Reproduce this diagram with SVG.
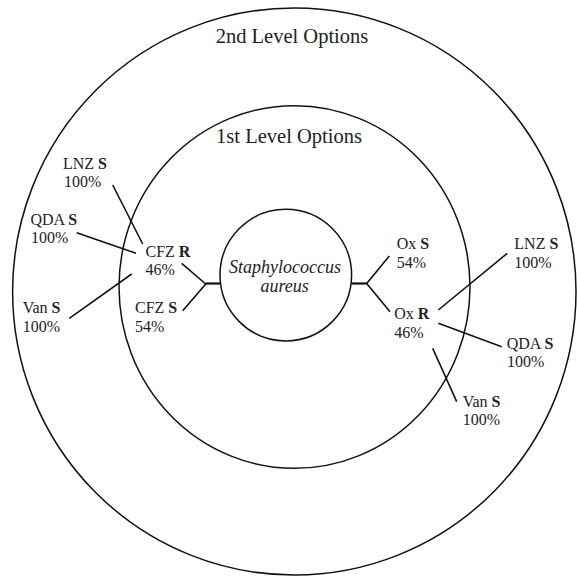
<svg xmlns="http://www.w3.org/2000/svg" width="577" height="576" viewBox="0 0 577 576">
<style>
.ring{fill:none;stroke:#111;stroke-width:1.5}
.c{stroke:#111;stroke-width:1.6;fill:none}
.h{stroke:#111;stroke-width:2.2;fill:none}
text{font-family:"Liberation Serif","Times New Roman",serif;fill:#222}
.lbl{font-size:16px}
.hd{font-size:20.5px;text-anchor:middle}
.sp{font-size:18px;font-style:italic;text-anchor:middle}
.b{font-weight:bold}
</style>
<rect width="577" height="576" fill="#fff"/>
<g id="outer-ring"><ellipse class="ring" cx="294.3" cy="291.5" rx="281.7" ry="283.5"/><text class="hd" x="292" y="43">2nd Level Options</text></g>
<g id="middle-ring"><ellipse class="ring" cx="294.5" cy="287" rx="175.5" ry="181.3"/><text class="hd" x="289" y="143">1st Level Options</text></g>
<g id="center"><circle class="ring" cx="285.8" cy="275.1" r="65.8"/><text class="sp" x="285" y="272.5">Staphylococcus</text><text class="sp" x="284.7" y="291.7">aureus</text></g>
<g id="connectors">
<polyline class="h" points="220,283.5 205.7,283.5"/>
<polyline class="c" points="181.7,263.3 205.7,284 182.7,310.7"/>
<line class="c" x1="112.7" y1="185" x2="142.7" y2="244"/>
<line class="c" x1="76.7" y1="232.7" x2="136" y2="253.3"/>
<line class="c" x1="69.3" y1="318.3" x2="131.7" y2="274"/>
<polyline class="h" points="351.7,283.5 366.7,283.5"/>
<polyline class="c" points="389.3,256 366.7,283.5 390,311.7"/>
<line class="c" x1="438.3" y1="310" x2="507.3" y2="253.3"/>
<line class="c" x1="438.3" y1="323.3" x2="501.7" y2="346.7"/>
<line class="c" x1="432.7" y1="348.3" x2="456.7" y2="401.7"/>
</g>
<g id="cfz-r"><text class="lbl" x="145.5" y="257">CFZ <tspan class="b">R</tspan></text><text class="lbl" x="145.5" y="275">46%</text></g>
<g id="cfz-s"><text class="lbl" x="135" y="313">CFZ <tspan class="b">S</tspan></text><text class="lbl" x="135" y="331.5">54%</text></g>
<g id="l-lnz"><text class="lbl" x="63" y="168.5">LNZ <tspan class="b">S</tspan></text><text class="lbl" x="64" y="186.5">100%</text></g>
<g id="l-qda"><text class="lbl" x="30.5" y="225">QDA <tspan class="b">S</tspan></text><text class="lbl" x="31" y="243.3">100%</text></g>
<g id="l-van"><text class="lbl" x="22.7" y="313">Van <tspan class="b">S</tspan></text><text class="lbl" x="22.7" y="331.5">100%</text></g>
<g id="ox-s"><text class="lbl" x="396.7" y="249.3">Ox <tspan class="b">S</tspan></text><text class="lbl" x="396.7" y="267.7">54%</text></g>
<g id="ox-r"><text class="lbl" x="394.3" y="319.3">Ox <tspan class="b">R</tspan></text><text class="lbl" x="394.3" y="337.7">46%</text></g>
<g id="r-lnz"><text class="lbl" x="514.3" y="249.3">LNZ <tspan class="b">S</tspan></text><text class="lbl" x="514.3" y="267.7">100%</text></g>
<g id="r-qda"><text class="lbl" x="506.7" y="349">QDA <tspan class="b">S</tspan></text><text class="lbl" x="507" y="366.5">100%</text></g>
<g id="r-van"><text class="lbl" x="462.7" y="406.7">Van <tspan class="b">S</tspan></text><text class="lbl" x="462.7" y="425">100%</text></g>
</svg>
